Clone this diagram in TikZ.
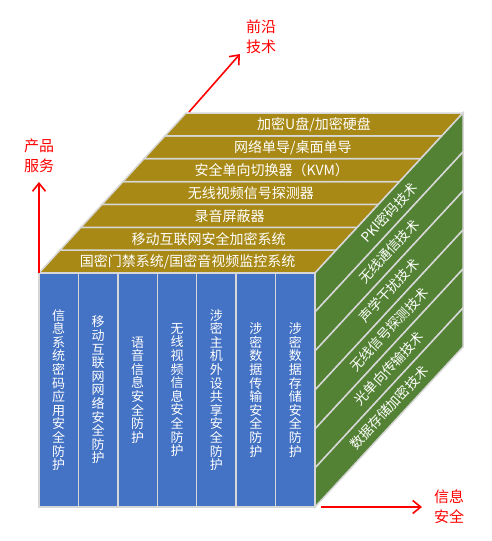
\documentclass[tikz,border=0pt]{standalone}
\usepackage{fontspec}
\newfontfamily\cjk{Noto Sans CJK SC}
\usetikzlibrary{arrows.meta,positioning,calc}
\definecolor{colblue}{RGB}{68,114,196}
\definecolor{topgold}{RGB}{168,137,22}
\definecolor{sidegreen}{RGB}{84,130,53}
\definecolor{sepgray}{RGB}{215,215,215}
\newcommand{\vtxt}[1]{\vtxtloop#1\relax}
\def\vtxtloop#1#2{#1\ifx\relax#2\else\\\expandafter\vtxtloop\expandafter#2\fi}
\tikzset{
  colblk/.style={draw=sepgray,line width=1.5pt,fill=colblue,text=white,minimum width=39.43pt,minimum height=234pt,inner sep=0pt,outer sep=0pt,align=center,font=\cjk\fontsize{13}{13.6}\selectfont},
  topbnd/.style={draw=sepgray,line width=1.5pt,fill=topgold},
  sidebnd/.style={draw=sepgray,line width=1.5pt,fill=sidegreen},
  toplbl/.style={text=white,font=\cjk\fontsize{14}{14}\selectfont},
  sidelbl/.style={text=white,font=\cjk\fontsize{13.5}{13.5}\selectfont,sloped},
  axlbl/.style={text=red,font=\cjk\fontsize{15}{20}\selectfont,align=left},
  axarr/.style={red,line width=1.6pt,-{Straight Barb[length=8pt,width=13pt]}}
}
\begin{document}
\begin{tikzpicture}[x=1pt,y=-1pt]
  \useasboundingbox (0,0) rectangle (491,541);
  \coordinate (F) at (39,273);
  \coordinate (G) at (315,273);
  \coordinate (K) at (315,507);
  \coordinate (E) at (186,113);
  \coordinate (H) at (463,113);
  \coordinate (L) at (463,347);

  % top face
  \foreach \txt [count=\i from 0] in {国密门禁系统/国密音视频监控系统,移动互联网安全加密系统,录音屏蔽器,无线视频信号探测器,安全单向切换器（KVM）,网络单导/桌面单导,加密U盘/加密硬盘}{
    \pgfmathsetmacro\a{\i/7}
    \pgfmathsetmacro\b{(\i+1)/7}
    \pgfmathsetmacro\m{(\i+0.5)/7}
    \path[topbnd] ($(F)!\a!(E)$) -- ($(G)!\a!(H)$) -- ($(G)!\b!(H)$) -- ($(F)!\b!(E)$) -- cycle;
    \path ($(F)!\m!(E)$) -- node[toplbl]{\txt} ($(G)!\m!(H)$);
  }

  % side face
  \foreach \txt [count=\j from 0] in {PKI密码技术,无线通信技术,声学干扰技术,无线信号探测技术,光单向传输技术,数据存储加密技术}{
    \pgfmathsetmacro\a{\j/6}
    \pgfmathsetmacro\b{(\j+1)/6}
    \pgfmathsetmacro\m{(\j+0.5)/6}
    \path[sidebnd] ($(G)!\a!(K)$) -- ($(H)!\a!(L)$) -- ($(H)!\b!(L)$) -- ($(G)!\b!(K)$) -- cycle;
    \path ($(G)!\m!(K)$) -- node[sidelbl]{\txt} ($(H)!\m!(L)$);
  }

  % front face
  \node[colblk,anchor=north west] (c1) at (F) {\vtxt{信息系统密码应用安全防护}};
  \node[colblk,right=0pt of c1] (c2) {\vtxt{移动互联网网络安全防护}};
  \node[colblk,right=0pt of c2] (c3) {\vtxt{语音信息安全防护}};
  \node[colblk,right=0pt of c3] (c4) {\vtxt{无线视频信息安全防护}};
  \node[colblk,right=0pt of c4] (c5) {\vtxt{涉密主机外设共享安全防护}};
  \node[colblk,right=0pt of c5] (c6) {\vtxt{涉密数据传输安全防护}};
  \node[colblk,right=0pt of c6] (c7) {\vtxt{涉密数据存储安全防护}};

  % axes
  \node[axlbl] (svc) at (39,156) {产品\\服务};
  \node[axlbl] (fro) at (261,37) {前沿\\技术};
  \node[axlbl] (sec) at (449,507) {信息\\安全};
  \coordinate (svctip) at (39,182);
  \coordinate (frotip) at (240,54);
  \coordinate (secfoot) at (321,507);
  \coordinate (sectip) at (422,507);
  \draw[axarr] (F) -- (svctip);
  \draw[axarr] ([shift={(3,-1)}]E) -- (frotip);
  \draw[axarr] (secfoot) -- (sectip);
\end{tikzpicture}
\end{document}
